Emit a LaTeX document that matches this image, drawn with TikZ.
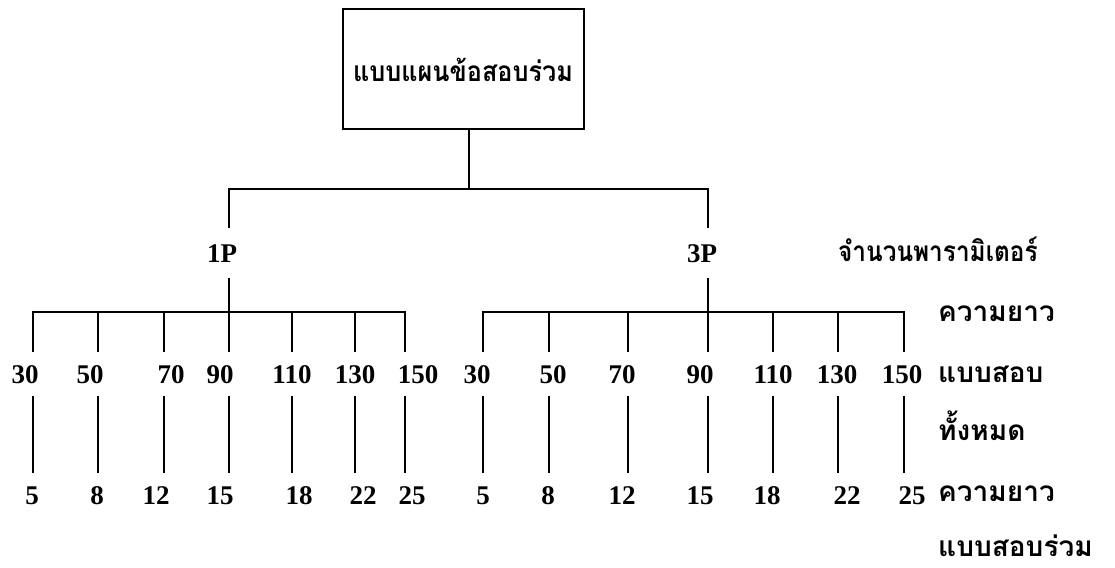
\documentclass[tikz,border=0pt]{standalone}
\usepackage{fontspec}
\setmainfont{Liberation Serif}
\newfontfamily\thai[Script=Thai]{Loma}
\begin{document}
\begin{tikzpicture}[x=1pt,y=-1pt,
  conn/.style={line width=2.8pt, draw=black},
  num/.style={font=\bfseries\fontsize{27}{27}\selectfont, inner xsep=0pt, inner ysep=12pt, text height=19pt, text depth=0pt},
  plab/.style={num, inner ysep=15pt},
  th/.style={font=\thai\bfseries\fontsize{28}{28}\selectfont, anchor=base west, inner sep=0pt, text depth=0pt},
  topbox/.style={draw, line width=2.8pt, minimum width=241pt, minimum height=120pt, inner sep=0pt}]
\useasboundingbox (0,0) rectangle (1115,567);
\fill[white] (0,0) rectangle (1115,567);

\node[topbox] (box) at (463.5,69) {};
\node[th] (boxlabel) at (353,82) {\scalebox{0.9}[1]{แบบแผนข้อสอบร่วม}};
\coordinate (j0) at (469,189);
\coordinate (j1) at (229,189);
\coordinate (j3) at (708,189);
\node[plab] (p1) at (222,253) {1P};
\node[plab] (p3) at (702,253) {3P};
\draw[conn] (j0 |- box.south) -- (j0);
\draw[conn] (j1 |- p1.north) -- (j1) -- (j3) -- (j3 |- p3.north);

\foreach \s/\i/\tx/\ux/\ut/\dx/\dt in {
  a/1/33/25/30/32/5, a/2/98/90/50/97/8, a/3/164/171/70/156/12, a/4/229/220/90/220/15,
  a/5/292/292/110/299/18, a/6/355/355/130/363/22, a/7/405/418/150/412/25,
  b/1/483/477/30/483/5, b/2/549/553/50/548/8, b/3/628/622/70/622/12, b/4/708/700/90/700/15,
  b/5/773/773/110/767/18, b/6/838/837/130/847/22, b/7/904/902/150/912/25}{
  \coordinate (t\s\i) at (\tx,312);
  \node[num] (u\s\i) at (\ux,374) {\ut};
  \node[num] (d\s\i) at (\dx,495) {\dt};
  \draw[conn] (t\s\i) -- (t\s\i |- u\s\i.north);
  \draw[conn] (t\s\i |- u\s\i.south) -- (t\s\i |- d\s\i.north);
}
\draw[conn] (ta1 |- ua1.north) -- (ta1) -- (ta7) -- (ta7 |- ua7.north);
\draw[conn] (tb1 |- ub1.north) -- (tb1) -- (tb7) -- (tb7 |- ub7.north);
\draw[conn] (p1.south -| ta4) -- (ta4);
\draw[conn] (p3.south -| tb4) -- (tb4);

\node[th] (r1) at (838,261) {\scalebox{0.87}[1]{จำนวนพารามิเตอร์}};
\node[th] (r2) at (938,321) {ความยาว};
\node[th] (r3) at (938,382) {แบบสอบ};
\node[th] (r4) at (938,440) {ทั้งหมด};
\node[th] (r5) at (938,501) {ความยาว};
\node[th] (r6) at (938,556) {แบบสอบร่วม};
\end{tikzpicture}
\end{document}
